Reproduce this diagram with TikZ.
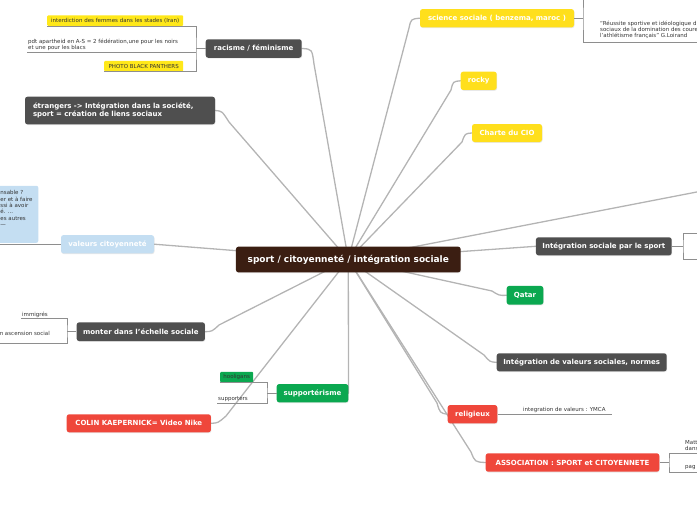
\documentclass[tikz,border=0pt]{standalone}
\usepackage{fontspec}
\setmainfont{DejaVu Sans}
\usetikzlibrary{positioning, backgrounds, shadows}
\definecolor{hubbrown}{HTML}{3B1E12}
\definecolor{topicgray}{HTML}{4F4F4F}
\definecolor{topicyellow}{HTML}{FFDF1C}
\definecolor{topicgreen}{HTML}{0BA850}
\definecolor{topicred}{HTML}{EF473B}
\definecolor{topicblue}{HTML}{C4DEF2}
\definecolor{noteyellow}{HTML}{FFE81A}
\definecolor{branchgray}{HTML}{B4B4B4}
\definecolor{twiggray}{HTML}{8E8E8E}

\begin{document}
\begin{tikzpicture}[
    x=1pt, y=-1pt,
    topic/.style={rounded corners=2.5pt, text=white, inner sep=0pt,
        font=\fontsize{7}{8.4}\selectfont\bfseries,
        drop shadow={opacity=0.18, shadow xshift=0.5pt, shadow yshift=-0.8pt}},
    notetext/.style={inner sep=1pt, text=black!80, font=\fontsize{5.5}{6.3}\selectfont},
    ynote/.style={notetext, fill=noteyellow, rounded corners=1pt, inner sep=0pt, minimum height=10.5},
    gnote/.style={ynote, fill=topicgreen},
    bluenote/.style={fill=topicblue, rounded corners=2pt, inner sep=0pt},
    branch/.style={draw=branchgray, line width=1.3pt, line cap=round},
    twig/.style={draw=twiggray, line width=0.6pt},
]
\useasboundingbox (0,0) rectangle (697,520);

\node[topic, fill=hubbrown, minimum width=224.7, minimum height=25.7, font=\fontsize{9}{10.5}\selectfont\bfseries] (hub) at (348.3,259.5) {sport / citoyenneté / intégration sociale};

\node[topic, fill=topicgray, minimum width=96, minimum height=18.5] (rac) at (253.7,48.5) {racisme / féminisme};
\node[topic, fill=topicgray, text width=174, inner xsep=8, minimum height=27.6, align=left] (etr) at (120,110.5) {étrangers -> Intégration dans la société,\\sport = création de liens sociaux};
\node[topic, fill=topicblue, minimum width=93, minimum height=18.3] (val) at (107.5,244.2) {valeurs citoyenneté};
\node[topic, fill=topicgray, minimum width=128.3, minimum height=18.7] (mon) at (140.8,331.7) {monter dans l'échelle sociale};
\node[topic, fill=topicred, minimum width=144.3, minimum height=18] (kae) at (138.8,423.3) {COLIN KAEPERNICK= Video Nike};
\node[topic, fill=topicgreen, minimum width=71.6, minimum height=18.3] (sup) at (312.5,393.2) {supportérisme};

\node[topic, fill=topicyellow, minimum width=154, minimum height=18.3] (sci) at (497,18.2) {science sociale ( benzema, maroc )};
\node[topic, fill=topicyellow, minimum width=36, minimum height=18.3] (rocky) at (478.7,80.8) {rocky};
\node[topic, fill=topicyellow, minimum width=70, minimum height=18] (cio) at (507,133) {Charte du CIO};
\node[topic, fill=topicgray, minimum width=135.7, minimum height=18] (isp) at (603.8,246.3) {Intégration sociale par le sport};
\node[topic, fill=topicgreen, minimum width=36.6, minimum height=18.7] (qat) at (525,295.3) {Qatar};
\node[topic, fill=topicgray, minimum width=170, minimum height=18] (ivs) at (581.7,362.3) {Intégration de valeurs sociales, normes};
\node[topic, fill=topicred, minimum width=49.6, minimum height=18.3] (rel) at (472.5,414.2) {religieux};
\node[topic, fill=topicred, minimum width=173.6, minimum height=18.4] (asso) at (572.5,462.5) {ASSOCIATION : SPORT et CITOYENNETE};
\coordinate (offr) at (720,187.5);

\node[ynote, minimum width=136, anchor=south west] (iran) at (47,26) {interdiction des femmes dans les stades (Iran)};
\node[notetext, anchor=south west, align=left] (apart) at (27,52) {pdt apartheid en A-S = 2 fédération,une pour les noirs\\et une pour les blacs};
\node[ynote, minimum width=79, anchor=south west] (panth) at (104,71.5) {PHOTO BLACK PANTHERS};
\coordinate (racfork) at (196,48.5);

\node[bluenote, minimum width=45, minimum height=57, anchor=south east] (valbox) at (38.5,243) {};
\node[notetext, anchor=north west, align=left] (valtext) at (-0.8,189.5) {nsable ?\\er et à faire\\ssi à avoir\\é. ...\\es autres\\—};

\node[notetext, anchor=south west] (immi) at (21,318.5) {immigrés};
\node[notetext, anchor=base east] (ascen) at (51,335) {n ascension social};
\coordinate (monfork) at (67,331.7);
\coordinate (monlow) at (-2,343);

\node[gnote, minimum width=33, anchor=south west] (hool) at (220,382.5) {hooligans};
\node[notetext, anchor=south west] (supp) at (217,403) {supporters};
\coordinate (supfork) at (267,393.2);

\node[notetext, anchor=south west, align=left] (loir) at (599,40) {“Réussite sportive et idéologique d\\sociaux de la domination des coure\\l'athlétisme français” G.Loirand};
\coordinate (scifork) at (583,18.2);
\coordinate (scitop) at (583,-3);
\coordinate (sciend) at (700,42);

\coordinate (ispfork) at (683,246.3);
\coordinate (isptop) at (700,233);
\coordinate (isplow) at (700,259);

\node[notetext, anchor=south west] (ymca) at (522,413.5) {integration de valeurs : YMCA};
\coordinate (ymcaend) at (612,414.2);

\node[notetext, anchor=south west, align=left] (matt) at (684,452) {Matt\\dans};
\node[notetext, anchor=south west] (pag) at (684,471) {pag};
\coordinate (assofork) at (669,462.5);
\coordinate (assotop) at (700,453);
\coordinate (assolow) at (700,472);

\begin{scope}[on background layer]
\draw[branch] (hub.center) -- (314,64) .. controls (312,49) .. (rac.east);
\draw[branch] (hub.center) -- (229,122) .. controls (222,111) .. (etr.east);
\draw[branch] (hub.center) -- (val.east);
\draw[branch] (hub.center) -- (219,325) .. controls (212,331.5) .. (mon.east);
\draw[branch] (hub.center) -- (226,416) .. controls (218,423) .. (kae.east);
\draw[branch] (hub.center) -- (sup.east);
\draw[branch] (hub.center) -- (409,28) .. controls (411,19) .. (sci.west);
\draw[branch] (hub.center) -- (451,90) .. controls (453,81.5) .. (rocky.west);
\draw[branch] (hub.center) -- (462,142) .. controls (465,133.5) .. (cio.west);
\draw[branch] (hub.center) -- (offr);
\draw[branch] (hub.center) -- (isp.west);
\draw[branch] (hub.center) -- (492,291) .. controls (499,295.5) .. (qat.west);
\draw[branch] (hub.center) -- (484,355) .. controls (490,362) .. (ivs.west);
\draw[branch] (hub.center) -- (437,403) .. controls (440,413) .. (rel.west);
\draw[branch] (hub.center) -- (471,452) .. controls (475,462) .. (asso.west);
\end{scope}

\draw[twig] (rac.west) -- (racfork);
\draw[twig] (iran.south west) -| (racfork) |- (panth.south west);
\draw[twig] (apart.south west) -- (apart.south west -| racfork);
\draw[twig] (val.west) -- (val.west -| valbox.west);
\draw[twig] (mon.west) -- (monfork);
\draw[twig] (immi.south west) -| (monfork) |- (monlow);
\draw[twig] (sup.west) -- (supfork);
\draw[twig] (hool.south west) -| (supfork) |- (supp.south west);
\draw[twig] (sci.east) -- (scifork);
\draw[twig] (scitop) -- (scifork) |- (sciend);
\draw[twig] (isp.east) -- (ispfork);
\draw[twig] (isptop) -| (ispfork) |- (isplow);
\draw[twig] (rel.east) -- (ymcaend);
\draw[twig] (asso.east) -- (assofork);
\draw[twig] (assotop) -| (assofork) |- (assolow);

\end{tikzpicture}
\end{document}
